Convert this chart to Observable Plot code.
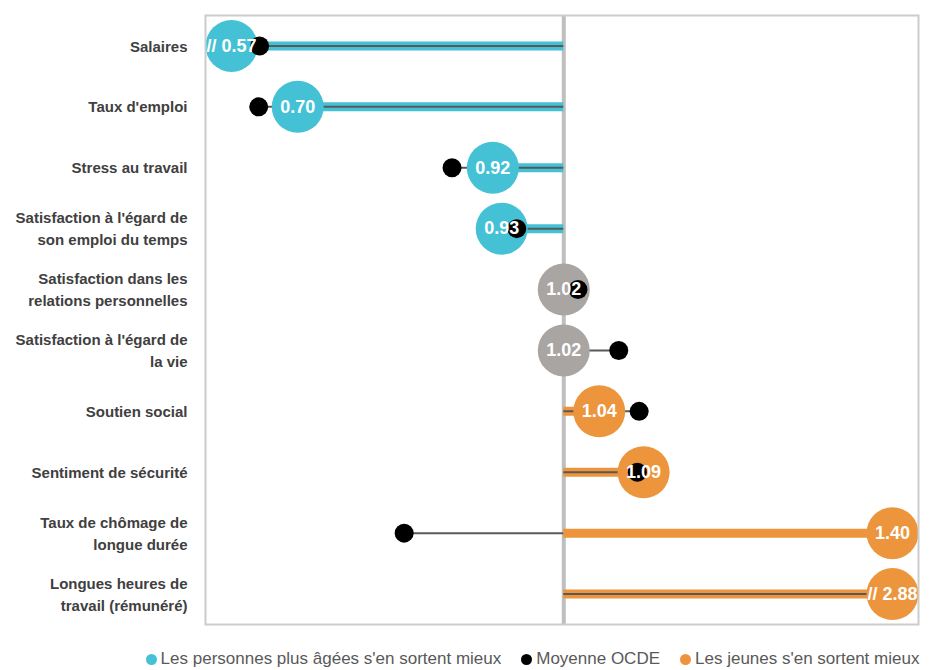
<!DOCTYPE html>
<html>
<head>
<meta charset="utf-8">
<script src="https://cdn.jsdelivr.net/npm/d3@7"></script>
<script src="https://cdn.jsdelivr.net/npm/@observablehq/plot@0.6"></script>
<style>
  body { margin: 0; background: #fff; font-family: "Liberation Sans", Arial, sans-serif; }
  #legend { display: flex; justify-content: center; align-items: center; margin-top: 17px; height: 20px; font-size: 17px; color: #595959; transform: translateX(63px); }
  .item { display: flex; align-items: center; margin: 0 10px; white-space: nowrap; }
  .sw { width: 11px; height: 11px; border-radius: 50%; margin-right: 4px; }
</style>
</head>
<body>
<div id="chart"></div>
<div id="legend"></div>
<script>
const categories = [
  "Salaires", "Taux d'emploi", "Stress au travail",
  "Satisfaction à l'égard de son emploi du temps",
  "Satisfaction dans les relations personnelles",
  "Satisfaction à l'égard de la vie",
  "Soutien social", "Sentiment de sécurité",
  "Taux de chômage de longue durée",
  "Longues heures de travail (rémunéré)"
];
const tickLabels = [
  "Salaires", "Taux d'emploi", "Stress au travail",
  "Satisfaction à l'égard de\nson emploi du temps",
  "Satisfaction dans les\nrelations personnelles",
  "Satisfaction à l'égard de\nla vie",
  "Soutien social", "Sentiment de sécurité",
  "Taux de chômage de\nlongue durée",
  "Longues heures de\ntravail (rémunéré)"
];
const ratios = [0.57, 0.70, 0.92, 0.93, 1.02, 1.02, 1.04, 1.09, 1.40, 2.88];
const oecd   = [0.657, 0.656, 0.874, 0.947, 1.016, 1.062, 1.085, 1.083, 0.82, 1.55];
const groups = ["older", "older", "older", "older", "ns", "ns", "young", "young", "young", "young"];
const groupColors = { older: "#45c1d6", ns: "#a8a5a3", young: "#ed953d" };
const legendItems = [
  { label: "Les personnes plus âgées s'en sortent mieux", color: "#45c1d6" },
  { label: "Moyenne OCDE", color: "#000000" },
  { label: "Les jeunes s'en sortent mieux", color: "#ed953d" }
];

const xMin = 0.596, xMax = 1.40, R = 26;
const clampV = v => Math.max(xMin, Math.min(xMax, v));

const rows = categories.map((cat, i) => ({
  cat, label: tickLabels[i], ratio: ratios[i], oecd: oecd[i], group: groups[i],
  clampL: ratios[i] <= xMin, clampR: ratios[i] >= xMax,
  pos: groups[i] === "ns" ? 1 : clampV(ratios[i]),
  text: (ratios[i] < xMin || ratios[i] > xMax ? "// " : "") + ratios[i].toFixed(2)
}));
const labelOf = new Map(rows.map(d => [d.cat, d.label]));
const normal = rows.filter(d => !d.clampL && !d.clampR);
const left = rows.filter(d => d.clampL);
const right = rows.filter(d => d.clampR);
const bubbleFont = { fill: "white", fontWeight: "bold", fontSize: 18 };

const chart = Plot.plot({
  width: 939, height: 632,
  marginTop: 15, marginBottom: 8, marginLeft: 205, marginRight: 21,
  style: { fontFamily: "'Liberation Sans', Arial, sans-serif", background: "white" },
  x: { domain: [xMin, xMax], axis: null },
  y: { domain: categories, type: "band", padding: 0, round: false, axis: null },
  marks: [
    Plot.axisY({ tickSize: 0, tickPadding: 18, fontSize: 15, fontWeight: "bold", fill: "#404040",
                 lineHeight: 1.47, dy: -1.5, label: null, tickFormat: d => labelOf.get(d) }),
    Plot.ruleX([1], { stroke: "#bfbfbf", strokeWidth: 4 }),
    Plot.ruleY(rows.filter(d => d.group !== "ns"), { y: "cat", x1: () => 1, x2: "pos", stroke: d => groupColors[d.group], strokeWidth: 9 }),
    Plot.ruleY(rows, { y: "cat", x1: () => 1, x2: "oecd", stroke: "#595959", strokeWidth: 2, clip: true }),
    Plot.dot(normal, { x: "pos", y: "cat", r: R, fill: d => groupColors[d.group], stroke: "none" }),
    Plot.dot(left, { x: "pos", y: "cat", r: R, dx: R, fill: d => groupColors[d.group], stroke: "none" }),
    Plot.dot(right, { x: "pos", y: "cat", r: R, dx: -R, fill: d => groupColors[d.group], stroke: "none" }),
    Plot.dot(rows, { x: "oecd", y: "cat", r: 9.5, fill: "black", stroke: "none", clip: true }),
    Plot.text(normal, { x: "pos", y: "cat", text: "text", ...bubbleFont }),
    Plot.text(left, { x: "pos", y: "cat", text: "text", dx: R, ...bubbleFont }),
    Plot.text(right, { x: "pos", y: "cat", text: "text", dx: -R, ...bubbleFont }),
    Plot.frame({ stroke: "#cccccc", strokeWidth: 2 })
  ]
});
document.getElementById("chart").append(chart);

const lg = document.getElementById("legend");
for (const it of legendItems) {
  const el = document.createElement("div");
  el.className = "item";
  el.innerHTML = `<span class="sw" style="background:${it.color}"></span><span>${it.label}</span>`;
  lg.append(el);
}
</script>
</body>
</html>
